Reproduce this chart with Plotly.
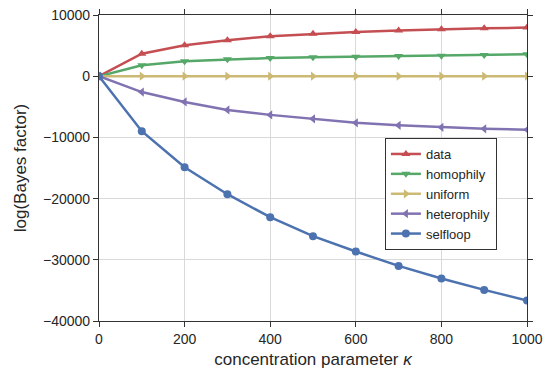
import plotly.graph_objects as go

kappa = [0, 100, 200, 300, 400, 500, 600, 700, 800, 900, 1000]

data_vals = [0, 3680, 5070, 5880, 6530, 6920, 7240, 7460, 7670, 7830, 7940]
homophily_vals = [0, 1780, 2430, 2750, 2970, 3080, 3190, 3290, 3350, 3450, 3570]
uniform_vals = [0, 0, 0, 0, 0, 0, 0, 0, 0, 0, 0]
heterophily_vals = [0, -2590, -4210, -5510, -6320, -6970, -7620, -8020, -8350, -8590, -8750]
selfloop_vals = [0, -8990, -14870, -19280, -23040, -26140, -28650, -31000, -33060, -34920, -36650]

series = [
    ("data", data_vals, "#C44E52", "triangle-up"),
    ("homophily", homophily_vals, "#55A868", "triangle-down"),
    ("uniform", uniform_vals, "#CCB974", "triangle-right"),
    ("heterophily", heterophily_vals, "#8172B2", "triangle-left"),
    ("selfloop", selfloop_vals, "#4C72B0", "circle"),
]

fig = go.Figure()
for name, vals, color, symbol in series:
    fig.add_trace(go.Scatter(
        x=kappa, y=vals, name=name, mode="lines+markers",
        line=dict(color=color, width=2.5),
        marker=dict(symbol=symbol, size=8, color=color),
    ))

axis_common = dict(
    showline=True, linecolor="#333333", linewidth=1.2, mirror="ticks",
    ticks="outside", ticklen=5, tickwidth=1.2, tickcolor="#333333",
    showgrid=True, gridcolor="#d9d9d9", gridwidth=1, zeroline=False,
    tickfont=dict(size=14, color="#262626"), automargin=False,
)

fig.update_layout(
    width=545, height=376,
    margin=dict(l=99, r=18, t=15, b=55),
    paper_bgcolor="white", plot_bgcolor="white",
    font=dict(family="Liberation Sans, Arial, sans-serif", color="#262626"),
    xaxis=dict(range=[0, 1000], tickvals=[0, 200, 400, 600, 800, 1000],
               title=dict(text="concentration parameter <i>κ</i>", font=dict(size=17), standoff=7),
               **axis_common),
    yaxis=dict(range=[-40000, 10000], tickvals=[-40000, -30000, -20000, -10000, 0, 10000],
               ticktext=["−40000", "−30000", "−20000", "−10000", "0", "10000"],
               title=dict(text="log(Bayes factor)", font=dict(size=17), standoff=12),
               **axis_common),
    legend=dict(x=0.668, y=0.598, xanchor="left", yanchor="top",
                bordercolor="#333333", borderwidth=1, bgcolor="white",
                font=dict(size=13), tracegroupgap=0, itemwidth=30),
    showlegend=True,
)

fig.write_html("out.html")
